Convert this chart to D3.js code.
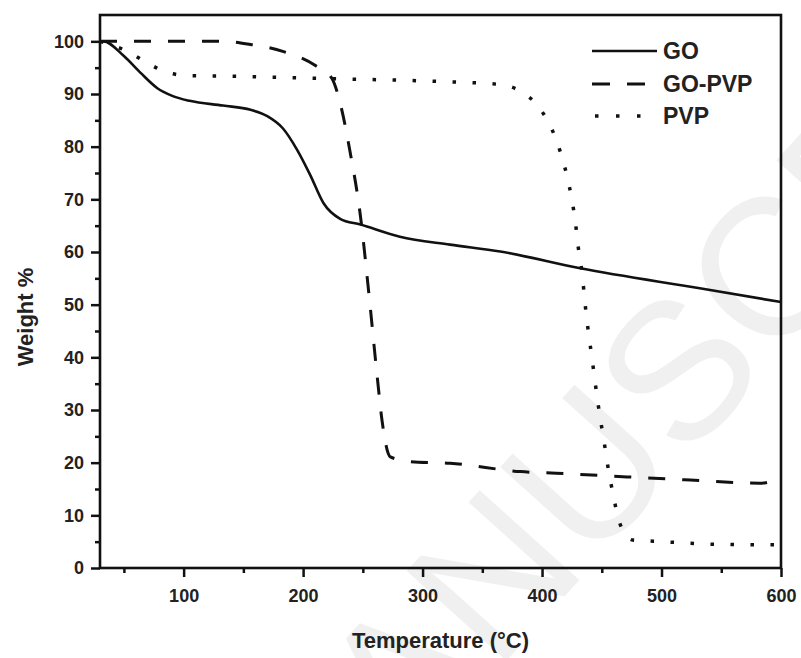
<!DOCTYPE html>
<html><head><meta charset="utf-8">
<script src="https://cdn.jsdelivr.net/npm/d3@7"></script>
<style>html,body{margin:0;padding:0;background:#fff;}svg{display:block;}</style>
</head><body>
<script>
// Data
const goT   = [30, 33, 50, 64, 78, 91, 105, 133, 156, 170, 183, 195, 206, 217, 231, 248, 281, 323, 365, 432, 532, 600];
const goW   = [100, 100, 97.2, 94, 91.1, 89.6, 88.7, 87.8, 87, 85.8, 83.5, 79.4, 74.6, 69.3, 66.3, 65.2, 62.9, 61.4, 60.1, 56.9, 53.1, 50.5];
const gopvpT = [30, 80, 133, 156, 183, 211, 224, 231, 239, 248, 255, 262, 266, 273, 290, 323, 382, 412, 471, 524, 582, 591, 600];
const gopvpW = [100, 100, 100, 99.4, 98.1, 95.3, 93, 88.3, 79.4, 66.8, 52.2, 36.4, 28.1, 21.1, 20.2, 19.9, 18.3, 18, 17.3, 16.7, 16.1, 16.4, 17.5];
const pvpT  = [30, 50, 69, 86, 105, 139, 172, 225, 312, 365, 382, 398, 409, 416, 421, 425, 428, 430, 433, 437, 442, 447, 453, 456, 460, 464, 476, 493, 546, 600];
const pvpW  = [100, 98.4, 96, 94.1, 93.5, 93.4, 93.2, 92.9, 92.4, 91.8, 90.5, 87.3, 82.9, 78.5, 74.3, 69.9, 65.5, 61.4, 56.9, 48.1, 39.5, 31, 22.4, 18, 13.5, 9.1, 5.3, 5.1, 4.5, 4.4];
const seriesNames = ["GO", "GO-PVP", "PVP"];
const xTicks = [100, 200, 300, 400, 500, 600];
const xMinor = [50, 150, 250, 350, 450, 550];
const yTicks = [0, 10, 20, 30, 40, 50, 60, 70, 80, 90, 100];
const yMinor = [5, 15, 25, 35, 45, 55, 65, 75, 85, 95];
const xTitle = "Temperature (°C)";
const yTitle = "Weight %";

const W = 801, H = 658;
const L = 100, R = 781, T = 15, B = 568;
const svg = d3.select("body").append("svg").attr("width", W).attr("height", H)
  .style("font-family", "'Liberation Sans', Arial, sans-serif");

// faint watermark
svg.append("text").text("MANUSCRIPT")
  .attr("transform", "translate(300,890) rotate(-48)")
  .attr("font-size", 195).attr("fill", "#f0f0f0").attr("font-family", "'Liberation Sans', Arial, sans-serif");

const x = d3.scaleLinear().domain([30, 600]).range([L, R]);
const y = d3.scaleLinear().domain([0, 105]).range([B, T]);

const lineGen = d3.line().x(d => x(d[0])).y(d => y(d[1])).curve(d3.curveMonotoneX);
const styles = [
  {dash: null, width: 2.6, cap: "butt"},
  {dash: "17,17", width: 3, cap: "butt"},
  {dash: "3.5,16.5", width: 3.5, cap: "butt"}
];
const data = [d3.zip(goT, goW), d3.zip(gopvpT, gopvpW), d3.zip(pvpT, pvpW)];

const gLines = svg.append("g");
data.forEach((d, i) => {
  gLines.append("path").datum(d).attr("d", lineGen)
    .attr("fill", "none").attr("stroke", "#111").attr("stroke-width", styles[i].width)
    .attr("stroke-dasharray", styles[i].dash).attr("stroke-linecap", styles[i].cap);
});

// axes
svg.append("g").attr("transform", `translate(0,${B})`)
  .call(d3.axisBottom(x).tickValues(xTicks).tickSize(9).tickPadding(12).tickFormat(d3.format("d")));
svg.append("g").attr("transform", `translate(0,${B})`)
  .call(d3.axisBottom(x).tickValues(xMinor).tickSize(5).tickFormat(""));
svg.append("g").attr("transform", `translate(${L},0)`)
  .call(d3.axisLeft(y).tickValues(yTicks).tickSize(9).tickPadding(7).tickFormat(d3.format("d")));
svg.append("g").attr("transform", `translate(${L},0)`)
  .call(d3.axisLeft(y).tickValues(yMinor).tickSize(5).tickFormat(""));
svg.selectAll(".domain").remove();
svg.selectAll(".tick line").attr("stroke", "#111").attr("stroke-width", 2.5);
svg.selectAll(".tick text").attr("font-size", 18).attr("font-weight", "bold")
  .attr("fill", "#222").attr("font-family", "'Liberation Sans', Arial, sans-serif");

svg.append("rect").attr("x", L).attr("y", T).attr("width", R - L).attr("height", B - T)
  .attr("fill", "none").attr("stroke", "#111").attr("stroke-width", 2.6);

// titles
svg.append("text").text(xTitle).attr("x", (L + R) / 2).attr("y", 648)
  .attr("text-anchor", "middle").attr("font-size", 22).attr("font-weight", "bold").attr("fill", "#222");
svg.append("text").text(yTitle).attr("transform", "translate(33,317) rotate(-90)")
  .attr("text-anchor", "middle").attr("font-size", 22).attr("font-weight", "bold").attr("fill", "#222");

// legend
const legY = [51, 84, 116];
const legX1 = [592, 592, 595], legX2 = [657, 657, 641];
const legDash = [null, "18,17", "3.5,17.5"];
const leg = svg.append("g");
seriesNames.forEach((n, i) => {
  leg.append("line").attr("x1", legX1[i]).attr("x2", legX2[i]).attr("y1", legY[i]).attr("y2", legY[i])
    .attr("stroke", "#111").attr("stroke-width", styles[i].width)
    .attr("stroke-dasharray", legDash[i]);
  leg.append("text").text(n).attr("x", 663).attr("y", legY[i]).attr("dy", "0.36em")
    .attr("font-size", 23).attr("font-weight", "bold").attr("fill", "#222");
});
</script>
</body></html>
